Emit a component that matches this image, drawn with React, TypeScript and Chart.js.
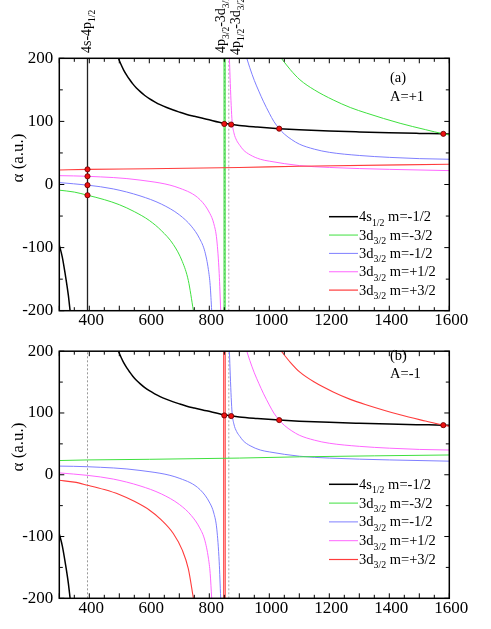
import React, { useEffect, useRef } from "react";
import { Chart, registerables } from "chart.js";
Chart.register(...registerables);

const FONT = '"Liberation Serif", "Times New Roman", serif';

// axes (wavelength in nm, polarizability in a.u.)
const X_MIN = 300;
const X_MAX = 1600;
const Y_MIN = -200;
const Y_MAX = 200;
const xTickLabels = [400, 600, 800, 1000, 1200, 1400, 1600];
const yTickLabels = [-200, -100, 0, 100, 200];
const MINOR = 50;

// 4s1/2 m=-1/2 (identical in both panels)
const s12LeftX = [300, 310, 320, 330, 336];
const s12LeftY = [-96, -115, -143, -175, -200];
const s12RightX = [497, 505, 515, 525, 535, 545, 557, 569, 585, 600, 618, 636, 658, 680, 702, 725, 750, 791, 849, 900, 960, 1033, 1100, 1200, 1300, 1400, 1500, 1580, 1600];
const s12RightY = [200, 191, 181, 173, 166, 159.5, 153, 147.5, 141, 136, 131, 126.5, 122, 118, 114.5, 111, 108, 103.5, 97, 93.5, 91, 88.5, 86.8, 84.8, 83.3, 82, 81, 80.3, 80];

// 3d3/2 m=-3/2 for A=+1 (same as m=+3/2 for A=-1)
const dm32LeftX = [300, 350, 394, 450, 500, 550, 600, 640, 680, 710, 730, 747];
const dm32LeftY = [-9, -12, -17, -24, -32, -43, -57, -73, -95, -122, -152, -200];
const dm32RightX = [1040, 1070, 1102, 1150, 1213, 1270, 1325, 1436, 1520, 1580, 1600];
const dm32RightY = [200, 182, 166, 150, 134, 122, 113, 97, 87, 80.3, 78.5];

// 3d3/2 m=-1/2 for A=+1 (same as m=+1/2 for A=-1)
const dm12LeftX = [300, 394, 480, 569, 640, 700, 740, 768, 785, 797, 803, 808];
const dm12LeftY = [3, -1, -7, -18, -31, -48, -66, -86, -106, -135, -160, -200];
const dm12RightX = [925, 935, 950, 965, 980, 1000, 1015, 1033, 1050, 1075, 1100, 1150, 1200, 1300, 1400, 1500, 1600];
const dm12RightY = [200, 185, 165, 148, 132, 113, 100, 88.5, 80, 71, 64, 56, 51, 46, 43, 41, 40];

// 3d3/2 m=+1/2 for A=+1 (same as m=-1/2 for A=-1)
const dp12LeftX = [300, 394, 569, 702, 769, 802, 815, 825, 833, 838];
const dp12LeftY = [14, 13, 7, -6, -24, -46, -62, -88, -141, -200];
const dp12RightX = [867, 870, 873, 876, 882, 891, 902, 913, 936, 970, 1000, 1100, 1200, 1400, 1600];
const dp12RightY = [200, 160, 125, 100, 82, 70, 62, 55, 47, 40, 37, 30, 27, 24, 22];

// 3d3/2 m=+3/2 for A=+1 (same as m=-3/2 for A=-1)
const dp32X = [300, 394, 600, 900, 1100, 1600];
const dp32Y = [23, 24, 25, 27, 29, 32];

// magic-wavelength markers
const magicTopX = [394, 394, 394, 394, 850, 873, 1033, 1580];
const magicTopY = [24, 13, -1, -17, 96, 95, 88.5, 80.3];
const magicBottomX = [850, 873, 1033, 1580];
const magicBottomY = [96, 95, 88.5, 80.3];

// transition wavelengths
const wl4s4p12 = 394;
const wl4p32_3d32 = 851;
const wl4p12_3d32 = 865;

type Part = { t: string; sub?: boolean };
const legendLabels: Part[][] = [
  [{ t: "4s" }, { t: "1/2", sub: true }, { t: " m=-1/2" }],
  [{ t: "3d" }, { t: "3/2", sub: true }, { t: " m=-3/2" }],
  [{ t: "3d" }, { t: "3/2", sub: true }, { t: " m=-1/2" }],
  [{ t: "3d" }, { t: "3/2", sub: true }, { t: " m=+1/2" }],
  [{ t: "3d" }, { t: "3/2", sub: true }, { t: " m=+3/2" }],
];
const transitionLabels: Part[][] = [
  [{ t: "4s-4p" }, { t: "1/2", sub: true }],
  [{ t: "4p" }, { t: "3/2", sub: true }, { t: "-3d" }, { t: "3/2", sub: true }],
  [{ t: "4p" }, { t: "1/2", sub: true }, { t: "-3d" }, { t: "3/2", sub: true }],
];

const BLACK = "#000000";
const GREEN = "#3fe03f";
const BLUE = "#7f7fff";
const PINK = "#ff66ff";
const RED = "#ff3c3c";
const legendColors = [BLACK, GREEN, BLUE, PINK, RED];
const legendWidths = [1.5, 1, 1, 1, 1.2];

const pts = (xs: number[], ys: number[]) => xs.map((x, i) => ({ x, y: ys[i] }));

function drawRich(ctx: CanvasRenderingContext2D, parts: Part[], x: number, y: number, size: number) {
  let cx = x;
  for (const p of parts) {
    const fs = p.sub ? size * 0.68 : size;
    ctx.font = `${fs}px ${FONT}`;
    ctx.fillText(p.t, cx, p.sub ? y + size * 0.3 : y);
    cx += ctx.measureText(p.t).width;
  }
}

type Curve = { xs: number[]; ys: number[]; color: string; width: number };
type VLine = { x: number; color: string; width: number; dash: number[] };

interface PanelSpec {
  key: string;
  top: number;
  height: number;
  padTop: number;
  xAxisHeight: number;
  curves: Curve[];
  vlines: VLine[];
  dotsX: number[];
  dotsY: number[];
  legendY0: number;
  legendDy: number;
  tag: string;
  tagY: number;
  aText: string;
  aY: number;
  titleY: number;
  showTransitions: boolean;
}

const topSpec: PanelSpec = {
  key: "a",
  top: 0,
  height: 335,
  padTop: 58.3,
  xAxisHeight: 24.3,
  curves: [
    { xs: dp32X, ys: dp32Y, color: RED, width: 1.1 },
    { xs: dp12LeftX, ys: dp12LeftY, color: PINK, width: 1 },
    { xs: dp12RightX, ys: dp12RightY, color: PINK, width: 1 },
    { xs: dm12LeftX, ys: dm12LeftY, color: BLUE, width: 1 },
    { xs: dm12RightX, ys: dm12RightY, color: BLUE, width: 1 },
    { xs: dm32LeftX, ys: dm32LeftY, color: GREEN, width: 1 },
    { xs: dm32RightX, ys: dm32RightY, color: GREEN, width: 1 },
    { xs: s12LeftX, ys: s12LeftY, color: BLACK, width: 1.5 },
    { xs: s12RightX, ys: s12RightY, color: BLACK, width: 1.5 },
  ],
  vlines: [
    { x: wl4s4p12, color: "#222222", width: 1.3, dash: [] },
    { x: wl4p32_3d32 - 2, color: GREEN, width: 1, dash: [] },
    { x: wl4p32_3d32 + 2, color: GREEN, width: 1, dash: [] },
    { x: wl4p32_3d32, color: "#669999", width: 1, dash: [2, 2] },
    { x: wl4p12_3d32, color: "#aaaaaa", width: 1, dash: [2, 2] },
  ],
  dotsX: magicTopX,
  dotsY: magicTopY,
  legendY0: 216.7,
  legendDy: 18.35,
  tag: "(a)",
  tagY: 82,
  aText: "A=+1",
  aY: 101,
  titleY: 158,
  showTransitions: true,
};

const bottomSpec: PanelSpec = {
  key: "b",
  top: 335,
  height: 294,
  padTop: 10.5,
  xAxisHeight: 30.7,
  curves: [
    { xs: dp32X, ys: dp32Y, color: GREEN, width: 1 },
    { xs: dp12LeftX, ys: dp12LeftY, color: BLUE, width: 1 },
    { xs: dp12RightX, ys: dp12RightY, color: BLUE, width: 1 },
    { xs: dm12LeftX, ys: dm12LeftY, color: PINK, width: 1 },
    { xs: dm12RightX, ys: dm12RightY, color: PINK, width: 1 },
    { xs: dm32LeftX, ys: dm32LeftY, color: RED, width: 1.1 },
    { xs: dm32RightX, ys: dm32RightY, color: RED, width: 1.1 },
    { xs: s12LeftX, ys: s12LeftY, color: BLACK, width: 1.5 },
    { xs: s12RightX, ys: s12RightY, color: BLACK, width: 1.5 },
  ],
  vlines: [
    { x: wl4s4p12, color: "#999999", width: 1, dash: [2, 2] },
    { x: wl4p32_3d32 - 3, color: RED, width: 1.1, dash: [] },
    { x: wl4p32_3d32 + 2, color: RED, width: 1.1, dash: [] },
    { x: wl4p12_3d32, color: "#aaaaaa", width: 1, dash: [2, 2] },
  ],
  dotsX: magicBottomX,
  dotsY: magicBottomY,
  legendY0: 149.3,
  legendDy: 18.8,
  tag: "(b)",
  tagY: 25,
  aText: "A=-1",
  aY: 43,
  titleY: 112,
  showTransitions: false,
};

function makeDecor(spec: PanelSpec) {
  return {
    id: "decor_" + spec.key,
    afterDraw(chart: any) {
      const ctx: CanvasRenderingContext2D = chart.ctx;
      const a = chart.chartArea;
      const xs = chart.scales.x;
      const ys = chart.scales.y;
      ctx.save();
      ctx.strokeStyle = "#000";
      ctx.lineWidth = 1;
      const seg = (x1: number, y1: number, x2: number, y2: number) => {
        ctx.beginPath();
        ctx.moveTo(x1, y1);
        ctx.lineTo(x2, y2);
        ctx.stroke();
      };
      for (let v = X_MIN; v <= X_MAX; v += MINOR) {
        const px = xs.getPixelForValue(v);
        const len = v % 100 === 0 ? 5 : 3.5;
        seg(px, a.bottom, px, a.bottom - len);
        seg(px, a.top, px, a.top + len);
      }
      for (let v = Y_MIN; v <= Y_MAX; v += MINOR) {
        const py = ys.getPixelForValue(v);
        const len = v % 100 === 0 ? 5 : 3.5;
        seg(a.left, py, a.left + len, py);
        seg(a.right, py, a.right - len, py);
      }
      ctx.lineWidth = 1.5;
      ctx.strokeRect(a.left, a.top, a.right - a.left, a.bottom - a.top);

      ctx.fillStyle = "#000";
      ctx.textBaseline = "alphabetic";
      ctx.textAlign = "left";
      // legend
      for (let i = 0; i < legendLabels.length; i++) {
        const ly = spec.legendY0 + i * spec.legendDy;
        ctx.strokeStyle = legendColors[i];
        ctx.lineWidth = legendWidths[i];
        seg(329, ly, 358, ly);
        drawRich(ctx, legendLabels[i], 359, ly + 4.5, 14.5);
      }
      // panel tag
      ctx.font = `14.5px ${FONT}`;
      ctx.fillText(spec.tag, 390, spec.tagY);
      ctx.fillText(spec.aText, 390, spec.aY);
      // y title
      ctx.save();
      ctx.translate(23, spec.titleY);
      ctx.rotate(-Math.PI / 2);
      ctx.textAlign = "center";
      ctx.font = `17px ${FONT}`;
      ctx.fillText("α (a.u.)", 0, 0);
      ctx.restore();
      // transition labels
      if (spec.showTransitions) {
        const tx = [91, 225, 240];
        const ty = [53, 53, 55];
        for (let i = 0; i < transitionLabels.length; i++) {
          ctx.save();
          ctx.translate(tx[i], ty[i]);
          ctx.rotate(-Math.PI / 2);
          ctx.textAlign = "left";
          drawRich(ctx, transitionLabels[i], 0, 0, 14);
          ctx.restore();
        }
      }
      ctx.restore();
    },
  };
}

function Panel({ spec }: { spec: PanelSpec }) {
  const ref = useRef<HTMLCanvasElement>(null);
  useEffect(() => {
    const datasets: any[] = [];
    datasets.push({
      type: "scatter",
      data: pts(spec.dotsX, spec.dotsY),
      pointRadius: 2.6,
      pointBackgroundColor: "#ee1111",
      pointBorderColor: "#660000",
      pointBorderWidth: 0.8,
      showLine: false,
      order: 0,
    });
    spec.curves.forEach((c) =>
      datasets.push({
        type: "line",
        data: pts(c.xs, c.ys),
        borderColor: c.color,
        borderWidth: c.width,
        pointRadius: 0,
        cubicInterpolationMode: "monotone",
        fill: false,
        order: 2,
      })
    );
    spec.vlines.forEach((v) =>
      datasets.push({
        type: "line",
        data: [
          { x: v.x, y: Y_MIN },
          { x: v.x, y: Y_MAX },
        ],
        borderColor: v.color,
        borderWidth: v.width,
        borderDash: v.dash,
        pointRadius: 0,
        fill: false,
        order: 3,
      })
    );
    const tickFont = { family: FONT, size: 17 };
    const chart = new Chart(ref.current as HTMLCanvasElement, {
      type: "line",
      data: { datasets },
      options: {
        animation: false,
        responsive: false,
        devicePixelRatio: 1,
        events: [],
        layout: { padding: { left: 0, right: 41.7, top: spec.padTop, bottom: 0 } },
        plugins: { legend: { display: false }, tooltip: { enabled: false } },
        scales: {
          x: {
            type: "linear",
            min: X_MIN,
            max: X_MAX,
            afterBuildTicks: (s: any) => {
              s.ticks = xTickLabels.map((v) => ({ value: v }));
            },
            afterFit: (s: any) => {
              s.height = spec.xAxisHeight;
            },
            ticks: {
              font: tickFont,
              color: "#000",
              padding: 0,
              labelOffset: 2,
              maxRotation: 0,
              autoSkip: false,
              callback: (v: any) => String(v),
            },
            grid: { display: false, drawTicks: false },
            border: { display: false },
          },
          y: {
            type: "linear",
            min: Y_MIN,
            max: Y_MAX,
            afterBuildTicks: (s: any) => {
              s.ticks = yTickLabels.map((v) => ({ value: v }));
            },
            afterFit: (s: any) => {
              s.width = 59.3;
            },
            ticks: { font: tickFont, color: "#000", padding: 6, autoSkip: false, callback: (v: any) => String(v) },
            grid: { display: false, drawTicks: false },
            border: { display: false },
          },
        },
      } as any,
      plugins: [makeDecor(spec)],
    });
    return () => chart.destroy();
  }, []);
  return (
    <canvas
      ref={ref}
      width={491}
      height={spec.height}
      style={{ position: "absolute", left: 0, top: spec.top, width: 491, height: spec.height }}
    />
  );
}

export default function App() {
  return (
    <div style={{ position: "absolute", left: 0, top: 0, width: 491, height: 629, background: "#fff" }}>
      <Panel spec={topSpec} />
      <Panel spec={bottomSpec} />
    </div>
  );
}
